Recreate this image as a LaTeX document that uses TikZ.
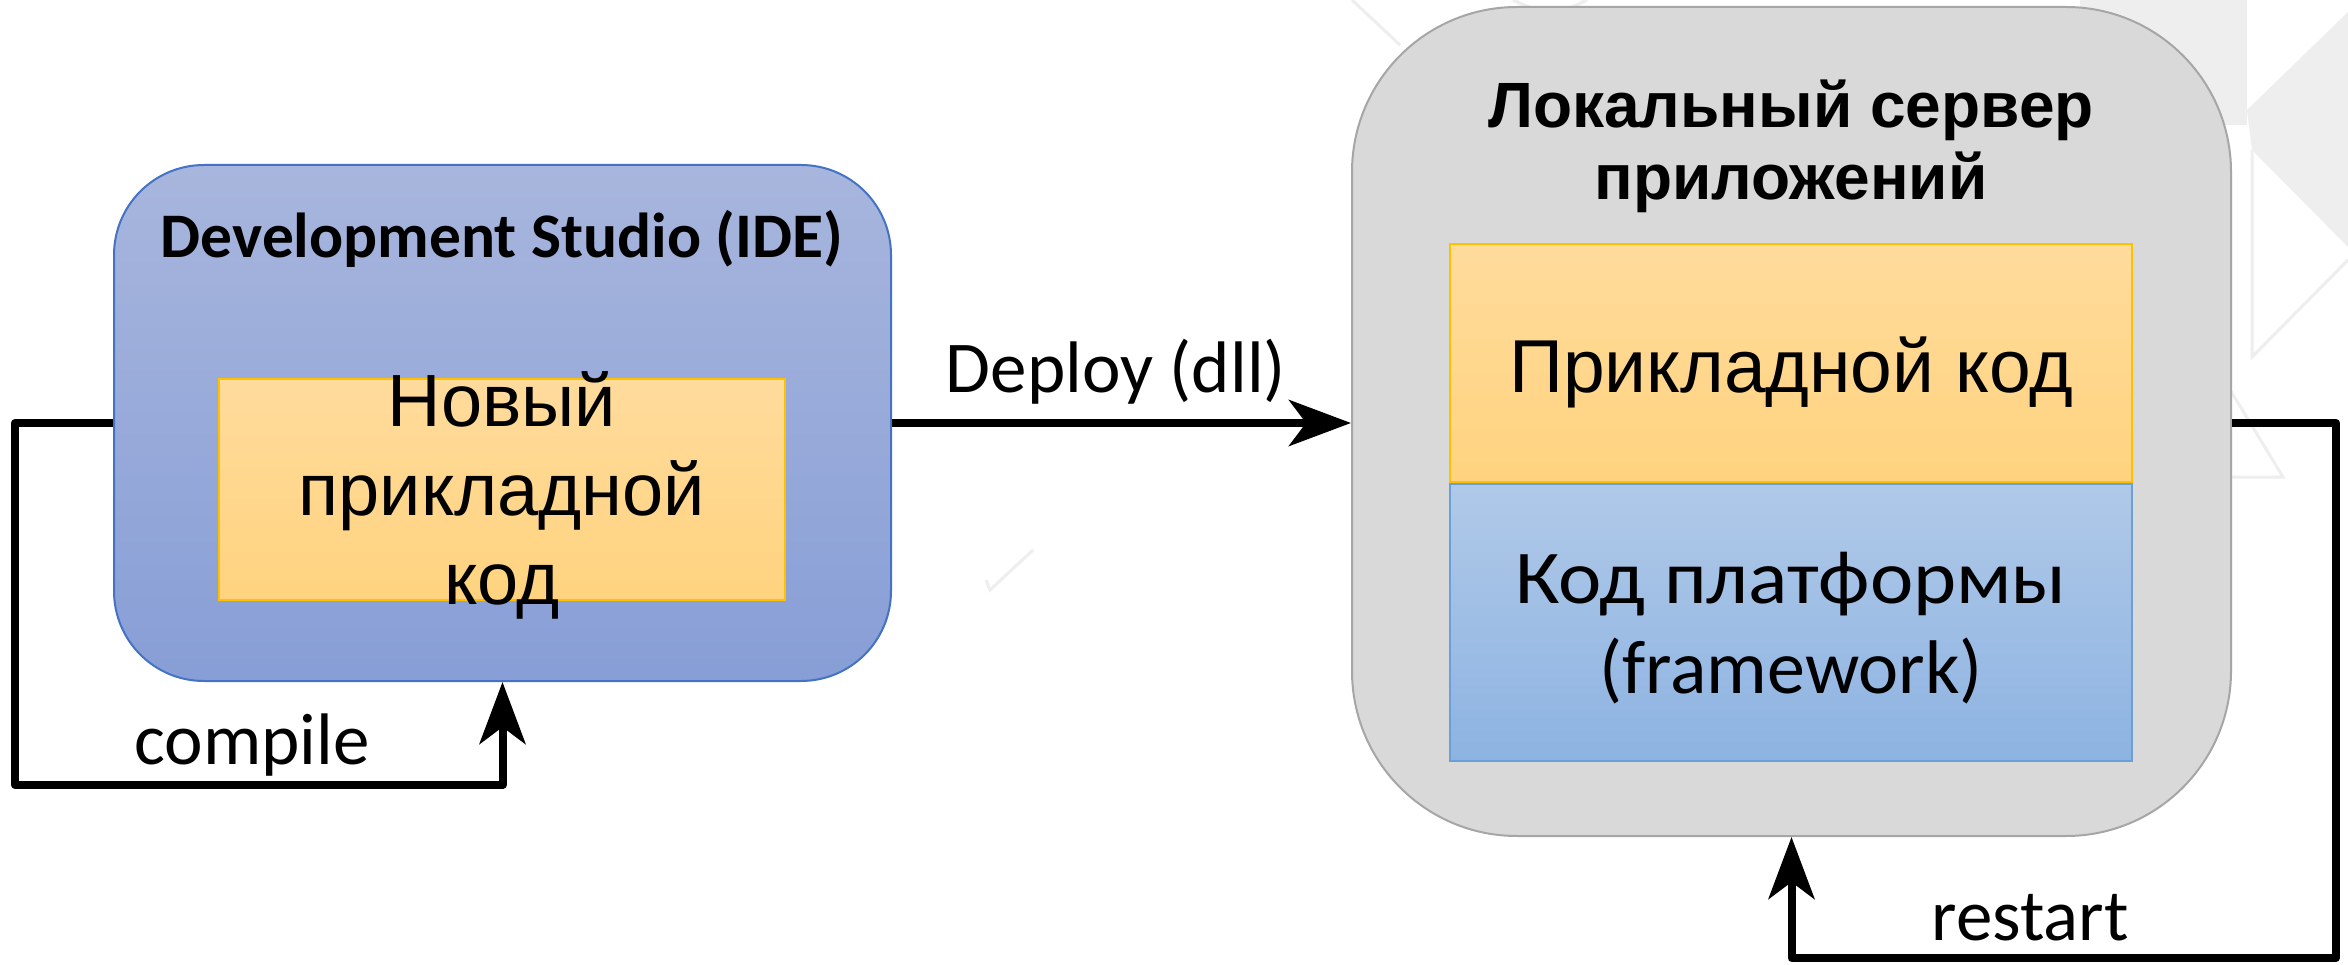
\documentclass[tikz,border=0pt]{standalone}
\usepackage{fontspec}
\usetikzlibrary{arrows.meta}
\newfontfamily\carlito{Carlito}
\newfontfamily\arialike{Liberation Sans}

\definecolor{ideTop}{HTML}{A8B6DD}
\definecolor{ideBot}{HTML}{879ED6}
\definecolor{ideLine}{HTML}{4472C4}
\definecolor{orTop}{HTML}{FFDB9C}
\definecolor{orBot}{HTML}{FFD37F}
\definecolor{orLine}{HTML}{FFC000}
\definecolor{fwTop}{HTML}{B0C9E8}
\definecolor{fwBot}{HTML}{8DB3E2}
\definecolor{fwLine}{HTML}{6A9FD8}
\definecolor{srvFill}{HTML}{D9D9D9}
\definecolor{srvLine}{HTML}{A6A6A6}
\definecolor{wmark}{HTML}{EEEEEE}

\tikzset{
  flow/.style={line width=8pt, line join=round,
    -{Stealth[length=62pt,width=46pt,inset=17pt]}},
  ideblock/.style={draw=ideLine, line width=2pt, rounded corners=90pt,
    top color=ideTop, bottom color=ideBot,
    minimum width=777pt, minimum height=516pt, inner sep=0pt},
  srvblock/.style={draw=srvLine, line width=2pt, rounded corners=165pt,
    fill=srvFill, minimum width=879pt, minimum height=829pt, inner sep=0pt},
  codebox/.style={draw=orLine, line width=2pt, top color=orTop, bottom color=orBot,
    inner sep=0pt},
  fwbox/.style={draw=fwLine, line width=1.5pt, top color=fwTop, bottom color=fwBot,
    inner sep=0pt},
  txt/.style={anchor=base, inner sep=0pt, align=center},
  lbl/.style={txt, font=\carlito\fontsize{73}{88}\selectfont},
  wm/.style={draw=wmark, line width=3pt}
}

\begin{document}
\begin{tikzpicture}[x=1pt, y=-1pt]
  % canvas
  \fill[white] (0,0) rectangle (2348,965);
  \useasboundingbox (0,0) rectangle (2348,965);

  % faint background ornament
  \fill[wmark] (2080,0) rectangle (2247,125);
  \fill[wmark] (2247,110) -- (2348,12) -- (2348,247) -- (2252,150) -- cycle;
  \draw[wm] (2252,150) -- (2252,357) -- (2348,260);
  \draw[wm] (2215,365) -- (2283,477) -- (2231,477);
  \draw[wm] (1352,0) -- (1400,45);
  \draw[wm] (1513,0) -- (1540,12);
  \draw[wm] (1587,0) -- (1562,12);
  \draw[wm] (1033,550) -- (990,590) -- (986,580);

  % IDE block
  \node[ideblock] (ide) at (502.5,423) {};
  \node[txt, font=\carlito\bfseries\fontsize{63.5}{70}\selectfont]
    (idetitle) at (502,258) {Development Studio (IDE)};
  \node[codebox, minimum width=566pt, minimum height=221pt] (newcode) at (502,489.5) {};
  \node[txt, font=\arialike\fontsize{74}{89}\selectfont]
    (newcodetext) at (502,604) {Новый\\прикладной\\код};

  % local application server
  \node[srvblock] (server) at (1791.5,421.5) {};
  \node[txt, font=\arialike\bfseries\fontsize{64}{72}\selectfont]
    (srvtitle) at (1791,200) {Локальный сервер\\приложений};
  \node[codebox, minimum width=682pt, minimum height=238pt] (appcode) at (1791,363) {};
  \node[txt, font=\arialike\fontsize{75}{88}\selectfont]
    (appcodetext) at (1791,392) {Прикладной код};
  \node[fwbox, minimum width=682pt, minimum height=277pt, anchor=north]
    (fwcode) at (appcode.south) {};
  \node[txt, font=\carlito\fontsize{76}{90}\selectfont]
    (fwcodetext) at (1791,693) {{\addfontfeature{FakeStretch=1.08}Код платформы}\\(framework)};

  % loop corners
  \coordinate (cmpcorner) at (15,785);
  \coordinate (rstcorner) at (2336,958);

  % deploy
  \draw[flow] (ide.east) -- (server.west |- ide.east);
  \node[lbl] (deploy) at (1116,392) {Deploy (dll)};

  % compile loop
  \draw[flow] (ide.west) -- (ide.west -| cmpcorner) -- (cmpcorner)
    -- (cmpcorner -| ide.south) -- (ide.south);
  \node[lbl] (compile) at (252,764) {compile};

  % restart loop
  \draw[flow] (server.east |- ide.east) -- (rstcorner |- ide.east) -- (rstcorner)
    -- (rstcorner -| server.south) -- (server.south);
  \node[lbl] (restart) at (2030,940) {restart};
\end{tikzpicture}
\end{document}
